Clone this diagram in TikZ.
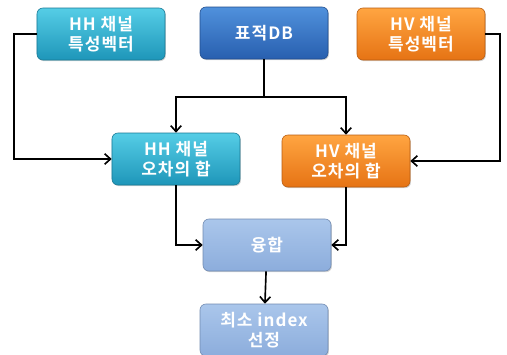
\documentclass[tikz,border=0pt]{standalone}
\usepackage{fontspec}
\setmainfont{Noto Sans CJK KR}[BoldFont={Noto Sans CJK KR Bold}]
\newfontfamily\boxfont{Noto Sans CJK KR Bold}[LetterSpace=6]
\usetikzlibrary{shadows,arrows.meta}

\definecolor{hhtop}{RGB}{85,205,230}
\definecolor{hhbot}{RGB}{30,150,185}
\definecolor{hvtop}{RGB}{255,165,65}
\definecolor{hvbot}{RGB}{230,115,20}
\definecolor{dbtop}{RGB}{80,145,220}
\definecolor{dbbot}{RGB}{40,95,175}
\definecolor{lbtop}{RGB}{170,198,235}
\definecolor{lbbot}{RGB}{140,173,220}

\begin{document}
\begin{tikzpicture}
          [x=0.03cm,y=-0.03cm,
           box/.style={draw,rounded corners=5pt,line width=0.5pt,minimum width=3.84cm,minimum height=1.56cm,
                       align=center,text=white,font=\boxfont\fontsize{14.5}{17}\selectfont,
                       drop shadow={shadow xshift=0.8pt,shadow yshift=-1pt,opacity=0.35}},
           hhbox/.style={box,draw=hhbot!80!black,top color=hhtop,bottom color=hhbot},
           hvbox/.style={box,draw=hvbot!80!black,top color=hvtop,bottom color=hvbot},
           dbbox/.style={box,draw=dbbot!80!black,top color=dbtop,bottom color=dbbot},
           lbbox/.style={box,draw=lbbot!80!black,top color=lbtop,bottom color=lbbot},
           arr/.style={->,line width=1.4pt,>={Straight Barb[length=5pt,width=9pt]}}]
          \useasboundingbox (0,0) rectangle (507,354);

          \node[hhbox] (hhv) at (101,34) {HH 채널\\특성벡터};
          \node[dbbox] (db) at (264,33) {표적DB};
          \node[hvbox] (hvv) at (421,34) {HV 채널\\특성벡터};
          \node[hhbox] (hhe) at (176,159) {HH 채널\\오차의 합};
          \node[hvbox] (hve) at (346,161) {HV 채널\\오차의 합};
          \node[lbbox] (fus) at (267,245) {융합};
          \node[lbbox] (sel) at (264,330) {최소 index\\선정};

          \coordinate (split) at (264,97);

          \draw[arr] (hhv.west) -- (14,34) |- (hhe.west);
          \draw[arr] (hvv.east) -- (500,34) |- (hve.east);
          \draw[line width=1.4pt] (db.south) -- (split);
          \draw[arr] (split) -| (hhe.north);
          \draw[arr] (split) -| (hve.north);
          \draw[arr] (hhe.south) |- (fus.west);
          \draw[arr] (hve.south) |- (fus.east);
          \draw[arr] (fus) -- (sel);
        \end{tikzpicture}
\end{document}
